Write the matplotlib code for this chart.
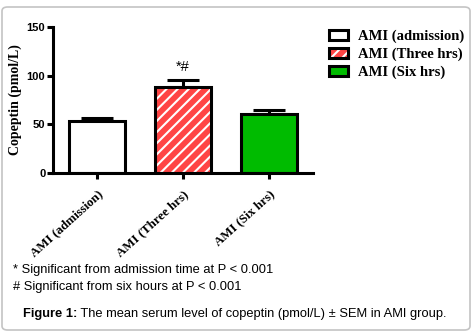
import matplotlib
matplotlib.use("Agg")
import matplotlib.pyplot as plt
import matplotlib.transforms as mtransforms
from matplotlib.patches import FancyBboxPatch

# dati
groups = ["AMI (admission)", "AMI (Three hrs)", "AMI (Six hrs)"]
means = [53.6, 88.7, 60.6]
sems = [2.8, 6.9, 3.8]
yticks = [0, 50, 100, 150]
footnotes = ["* Significant from admission time at P < 0.001",
             "# Significant from six hours at P < 0.001"]

SERIF = "Liberation Serif"
SANS = "Liberation Sans"
plt.rcParams["hatch.linewidth"] = 1.5

fig = plt.figure(figsize=(4.73, 3.33), dpi=100)
ax = fig.add_axes([0.112, 0.4814, 0.549, 0.4366])

# cornice arrotondata grigia
frame = FancyBboxPatch((2 / 473, 3 / 333), 468 / 473, 323 / 333,
                       boxstyle="round,pad=0,rounding_size=0.012",
                       transform=fig.transFigure, facecolor="none",
                       edgecolor="#c4c4c4", linewidth=1.2)
fig.patches.append(frame)

faces = ["white", "#ff4545", "#00bb00"]
hatches = ["", "///", ""]
x = list(range(len(groups)))
width = 0.66

# riempimento (con tratteggio bianco) e contorno nero separati
fills = ax.bar(x, means, width=width, color=faces, edgecolor="white",
               linewidth=0, zorder=2)
for b, h in zip(fills, hatches):
    b.set_hatch(h)
outlines = ax.bar(x, means, width=width, facecolor="none",
                  edgecolor="black", linewidth=2.2, zorder=3)

ax.errorbar(x, means, yerr=[[0] * 3, sems], fmt="none", ecolor="black",
            elinewidth=2.2, capsize=11.5, capthick=2.2, zorder=1)

ax.text(1, means[1] + sems[1] + 6, "*#", ha="center", va="bottom",
        fontsize=10.5, family=SANS)

ax.set_xlim(-0.512, 2.508)
ax.set_ylim(0, 150)
ax.set_yticks(yticks)
ax.set_xticks(x)
ax.set_xticklabels(groups, rotation=42, ha="right", va="top",
                   rotation_mode="anchor", fontsize=9.3, family=SERIF,
                   fontweight="bold")
shift = mtransforms.ScaledTranslation(-4 / 100, 0, fig.dpi_scale_trans)
for lab in ax.get_xticklabels():
    lab.set_transform(lab.get_transform() + shift)
for lab in ax.get_yticklabels():
    lab.set_family(SANS)
    lab.set_fontweight("bold")
    lab.set_fontsize(8)

for side in ["top", "right"]:
    ax.spines[side].set_visible(False)
for side in ["left", "bottom"]:
    ax.spines[side].set_linewidth(2.2)
ax.tick_params(axis="both", width=2.2, length=4, direction="out")
ax.tick_params(axis="y", pad=1.5)
ax.tick_params(axis="x", pad=7)

ax.set_ylabel("Copeptin (pmol/L)", family=SERIF, fontweight="bold",
              fontsize=10)
ax.yaxis.set_label_coords(-0.119, 0.5)

handles = [(f, o) for f, o in zip(fills, outlines)]
ax.legend(handles, groups, loc="upper left",
          bbox_to_anchor=(329 / 473, 1 - 30 / 333),
          bbox_transform=fig.transFigure, frameon=False,
          prop={"family": SERIF, "weight": "bold", "size": 10.5},
          handlelength=1.3, handleheight=0.62, handletextpad=0.7,
          labelspacing=0.3, borderaxespad=0, borderpad=0)

# note e didascalia
fig.text(13 / 473, 1 - 270 / 333, footnotes[0], family=SANS, fontsize=9.3,
         va="center")
fig.text(13 / 473, 1 - 287 / 333, footnotes[1], family=SANS, fontsize=9.3,
         va="center")
t1 = fig.text(23 / 473, 1 - 314 / 333, "Figure 1:", family=SANS,
              fontsize=9.3, fontweight="bold", va="center")
ax.annotate(" The mean serum level of copeptin (pmol/L) \u00b1 SEM in AMI group.",
            xy=(1, 0), xycoords=t1, va="bottom", ha="left",
            family=SANS, fontsize=9.3, annotation_clip=False)

fig.savefig("out.png", dpi=100)
